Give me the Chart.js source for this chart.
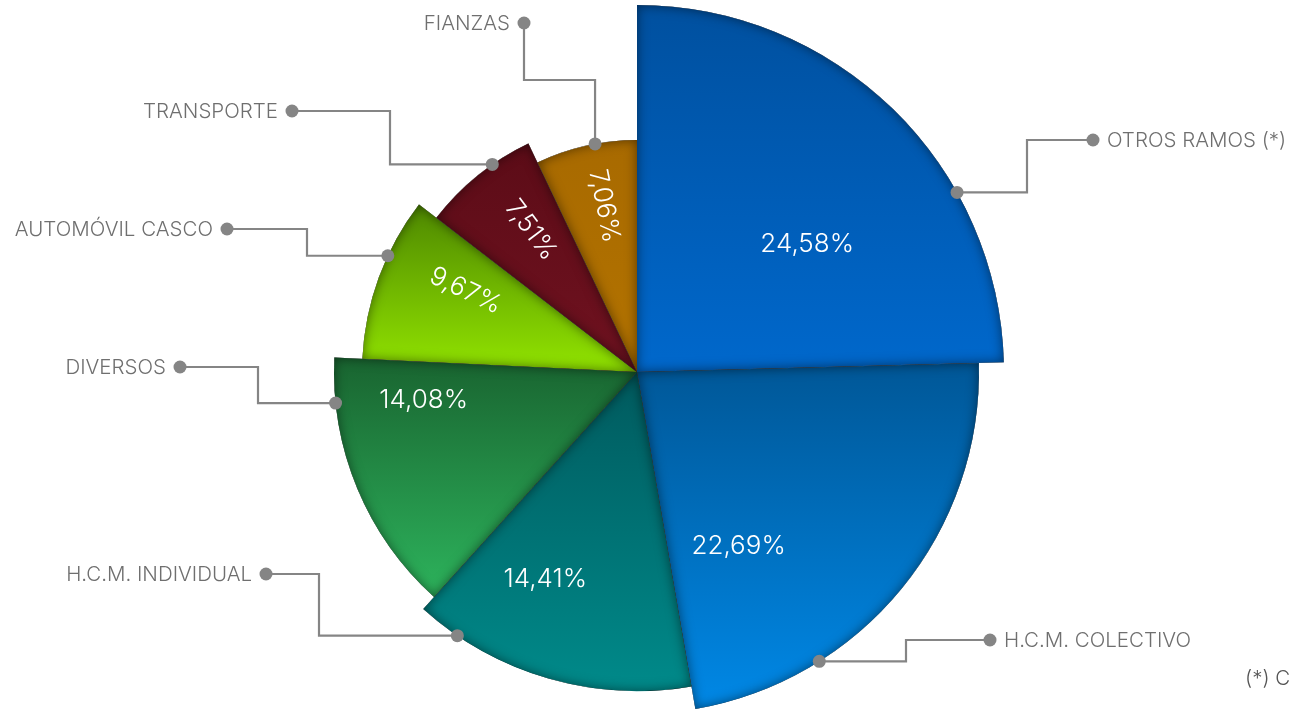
<!DOCTYPE html>
<html>
<head>
<meta charset="utf-8">
<script src="https://cdn.jsdelivr.net/npm/chart.js@4.4.1/dist/chart.umd.min.js"></script>
<style>
  html, body { margin: 0; padding: 0; background: #fff; }
  #ramosChartContainer { position: relative; width: 1289px; height: 714px; }
</style>
</head>
<body>
<div id="ramosChartContainer">
  <canvas id="ramosChart"></canvas>
</div>
<script>
// datos
const ramos = ["OTROS RAMOS (*)", "H.C.M. COLECTIVO", "H.C.M. INDIVIDUAL", "DIVERSOS", "AUTOMÓVIL CASCO", "TRANSPORTE", "FIANZAS"];
const porcentajes = [24.58, 22.69, 14.41, 14.08, 9.67, 7.51, 7.06];
const nota = "(*) C";

// estilo de cada porcion: [arriba, abajo]
const colores = [
  ["#00509f", "#0068cc"],
  ["#005797", "#0088e6"],
  ["#005a5e", "#008a8a"],
  ["#196430", "#2db35c"],
  ["#4e8800", "#92e400"],
  ["#5c0c17", "#701220"],
  ["#a86a00", "#b37300"]
];
const escalaRadio = [1.073, 1.0, 0.933, 0.886, 0.804, 0.74, 0.678];
// posicion del texto del porcentaje dentro de la porcion (fraccion de angulo, fraccion de radio, girar)
const textoAng = [0.6, 0.75, 0.65, 0.8, 0.65, 0.58, 0.56];
const textoRad = [0.58, 0.59, 0.71, 0.71, 0.69, 0.70, 0.73];
const textoGira = [false, false, false, false, true, true, true];
// llamadas: punto sobre el arco, codo y punto de la etiqueta (relativos al centro)
const llamadas = [
  { t: 0.686, codo: 390, lx: 456, ly: -232, lado: "der" },
  { t: 0.726, codo: 269, lx: 353, ly: 268, lado: "der" },
  { t: 0.85, codo: -318, lx: -371, ly: 202, lado: "izq" },
  { t: 0.83, codo: -379, lx: -457, ly: -5, lado: "izq" },
  { t: 0.64, codo: -330, lx: -410, ly: -143, lado: "izq" },
  { t: 0.65, codo: -247, lx: -345, ly: -261, lado: "izq" },
  { t: 0.59, codoY: -292, lx: -113, ly: -349, lado: "izq" }
];

const GRIS_LINEA = "#858585";
const GRIS_TEXTO = "#6f6f6f";

function degradado(c) {
  const i = c.dataIndex;
  const chart = c.chart;
  const area = chart.chartArea;
  if (!area || i === undefined) return colores[0][0];
  const cx = (area.left + area.right) / 2;
  const cy = (area.top + area.bottom) / 2;
  const r = Math.min(area.width, area.height) / 2 * escalaRadio[i];
  const total = porcentajes.reduce((a, b) => a + b, 0);
  const antes = porcentajes.slice(0, i).reduce((a, b) => a + b, 0);
  const a0 = -Math.PI / 2 + antes / total * 2 * Math.PI;
  const a1 = a0 + porcentajes[i] / total * 2 * Math.PI;
  let y0 = cy, y1 = cy;
  for (let k = 0; k <= 48; k++) {
    const y = cy + r * Math.sin(a0 + (a1 - a0) * k / 48);
    y0 = Math.min(y0, y);
    y1 = Math.max(y1, y);
  }
  const g = chart.ctx.createLinearGradient(0, y0, 0, y1);
  g.addColorStop(0, colores[i][0]);
  g.addColorStop(1, colores[i][1]);
  return g;
}

function caminoArco(ctx, arc) {
  ctx.beginPath();
  ctx.moveTo(arc.x, arc.y);
  ctx.arc(arc.x, arc.y, arc.outerRadius, arc.startAngle, arc.endAngle);
  ctx.closePath();
}

function puntoArco(arc, t, rf) {
  const a = arc.startAngle + (arc.endAngle - arc.startAngle) * t;
  const r = arc.outerRadius * rf;
  return { x: arc.x + Math.cos(a) * r, y: arc.y + Math.sin(a) * r, a: a };
}

// cada porcion con su propio radio
const radioVariable = {
  id: "radioVariable",
  afterDatasetsUpdate(chart) {
    const meta = chart.getDatasetMeta(0);
    const base = meta.controller.outerRadius;
    meta.data.forEach((arc, i) => { arc.outerRadius = base * escalaRadio[i]; });
  }
};

// sombra interior + porcentajes
const sombraYTextos = {
  id: "sombraYTextos",
  afterDatasetsDraw(chart) {
    const ctx = chart.ctx;
    const meta = chart.getDatasetMeta(0);
    meta.data.forEach((arc) => {
      ctx.save();
      caminoArco(ctx, arc);
      ctx.clip();
      ctx.shadowColor = "rgba(0,0,0,0.5)";
      ctx.shadowBlur = 12;
      ctx.beginPath();
      ctx.rect(-5000, -5000, 10000, 10000);
      ctx.moveTo(arc.x, arc.y);
      ctx.arc(arc.x, arc.y, arc.outerRadius, arc.startAngle, arc.endAngle);
      ctx.closePath();
      ctx.fillStyle = "#000";
      ctx.fill("evenodd");
      ctx.restore();
    });

    meta.data.forEach((arc, i) => {
      const p = puntoArco(arc, textoAng[i], textoRad[i]);
      ctx.save();
      ctx.translate(p.x, p.y);
      if (textoGira[i]) ctx.rotate(p.a + Math.PI);
      ctx.fillStyle = "#ffffff";
      ctx.font = "300 26px Inter, 'Open Sans', sans-serif";
      ctx.textAlign = "center";
      ctx.textBaseline = "middle";
      ctx.fillText(porcentajes[i].toFixed(2).replace(".", ",") + "%", 0, 0);
      ctx.restore();
    });
  }
};

// lineas de llamada y nombres
const llamadasPlugin = {
  id: "llamadas",
  afterDraw(chart) {
    const ctx = chart.ctx;
    const meta = chart.getDatasetMeta(0);
    const area = chart.chartArea;
    const cx = (area.left + area.right) / 2;
    const cy = (area.top + area.bottom) / 2;
    ctx.save();
    ctx.strokeStyle = GRIS_LINEA;
    ctx.fillStyle = GRIS_LINEA;
    ctx.lineWidth = 2.2;
    ctx.lineJoin = "miter";
    meta.data.forEach((arc, i) => {
      const ll = llamadas[i];
      const p = puntoArco(arc, ll.t, 1);
      const lx = cx + ll.lx, ly = cy + ll.ly;
      ctx.beginPath();
      ctx.moveTo(p.x, p.y);
      if (ll.codoY !== undefined) {
        const yy = cy + ll.codoY;
        ctx.lineTo(p.x, yy);
        ctx.lineTo(lx, yy);
        ctx.lineTo(lx, ly);
      } else {
        const xx = cx + ll.codo;
        ctx.lineTo(xx, p.y);
        ctx.lineTo(xx, ly);
        ctx.lineTo(lx, ly);
      }
      ctx.stroke();
      [p, { x: lx, y: ly }].forEach((q) => {
        ctx.beginPath();
        ctx.arc(q.x, q.y, 6.5, 0, Math.PI * 2);
        ctx.fill();
      });
    });

    ctx.fillStyle = GRIS_TEXTO;
    ctx.font = "300 20.5px Inter, 'Open Sans', sans-serif";
    ctx.textBaseline = "middle";
    ramos.forEach((nombre, i) => {
      const ll = llamadas[i];
      const lx = cx + ll.lx, ly = cy + ll.ly + 1;
      if (ll.lado === "der") {
        ctx.textAlign = "left";
        ctx.fillText(nombre, lx + 14, ly);
      } else {
        ctx.textAlign = "right";
        ctx.fillText(nombre, lx - 14, ly);
      }
    });

    ctx.fillStyle = "#555";
    ctx.textAlign = "left";
    ctx.fillText(nota, chart.width - 44, chart.height - 35);
    ctx.restore();
  }
};

const ramosChart = document.getElementById("ramosChart").getContext("2d");
new Chart(ramosChart, {
  type: "pie",
  data: {
    labels: ramos,
    datasets: [
      {
        data: porcentajes,
        backgroundColor: degradado,
        borderWidth: 0,
        hoverOffset: 0,
        clip: false
      }
    ]
  },
  options: {
    responsive: true,
    maintainAspectRatio: false,
    animation: false,
    events: [],
    layout: { padding: { top: 30, bottom: 0, left: 0, right: 15 } },
    plugins: {
      legend: { display: false },
      tooltip: { enabled: false }
    }
  },
  plugins: [radioVariable, sombraYTextos, llamadasPlugin]
});
</script>
</body>
</html>
